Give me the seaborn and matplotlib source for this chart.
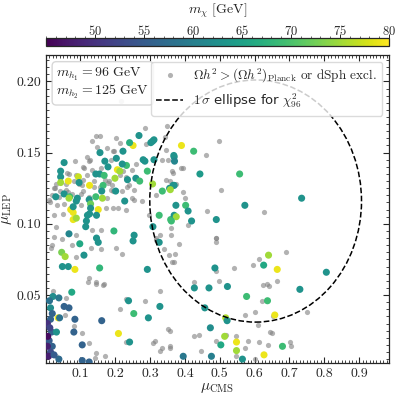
import numpy as np
import pandas as pd
import matplotlib
matplotlib.use("Agg")
import matplotlib.pyplot as plt
import seaborn as sns
from matplotlib.patches import Ellipse
from matplotlib.lines import Line2D
from matplotlib.ticker import MultipleLocator

# ---------------- data ----------------
gray_x = [0.2175, 0.342, 0.348,
          0.284, 0.144, 0.155, 0.132, 0.148, 0.177, 0.201, 0.287, 0.196, 0.187, 0.120, 0.084,
          0.125, 0.067, 0.110, 0.134, 0.120, 0.222, 0.247, 0.259, 0.024, 0.057, 0.081, 0.107,
          0.139, 0.182, 0.190, 0.235, 0.254, 0.101, 0.218, 0.335, 0.364, 0.019, 0.125, 0.077,
          0.105, 0.038, 0.177, 0.249, 0.158, 0.057, 0.192, 0.316, 0.345,
          0.213, 0.194, 0.347, 0.352, 0.390, 0.126, 0.107, 0.088, 0.026, 0.040, 0.107, 0.155,
          0.179, 0.189, 0.213, 0.095, 0.065, 0.030, 0.170, 0.230, 0.060, 0.140, 0.240, 0.012,
          0.010, 0.034, 0.053, 0.024, 0.050, 0.101, 0.172, 0.192, 0.209, 0.230, 0.254, 0.278,
          0.029, 0.134, 0.158, 0.086, 0.048, 0.019, 0.014, 0.075, 0.129, 0.158, 0.201, 0.220,
          0.086, 0.125, 0.144, 0.168, 0.297, 0.316, 0.369, 0.354, 0.024, 0.328, 0.318, 0.340,
          0.021, 0.057, 0.056, 0.081, 0.105, 0.125, 0.144, 0.142, 0.170, 0.123, 0.144, 0.165,
          0.213, 0.232, 0.285, 0.328, 0.352, 0.230, 0.307, 0.314, 0.335, 0.356, 0.329, 0.029,
          0.498, 0.460, 0.393, 0.366, 0.358, 0.374, 0.503, 0.393, 0.400, 0.464, 0.627, 0.409,
          0.361, 0.489, 0.361,
          0.383, 0.490, 0.488, 0.371, 0.364, 0.613, 0.596, 0.690, 0.540, 0.490, 0.498, 0.427,
          0.663, 0.623, 0.636, 0.640, 0.620, 0.602, 0.573, 0.610, 0.653, 0.548, 0.425, 0.439,
          0.519, 0.488, 0.582, 0.644, 0.651, 0.613, 0.639, 0.703, 0.447, 0.572, 0.601, 0.358,
          0.356, 0.548, 0.751, 0.704]
gray_y = [0.1865, 0.161, 0.169,
          0.167, 0.162, 0.162, 0.158, 0.154, 0.153, 0.160, 0.156, 0.151, 0.145, 0.147, 0.144,
          0.144, 0.135, 0.139, 0.138, 0.134, 0.137, 0.138, 0.142, 0.125, 0.128, 0.130, 0.131,
          0.126, 0.130, 0.127, 0.126, 0.124, 0.121, 0.123, 0.145, 0.137, 0.120, 0.119, 0.121,
          0.127, 0.119, 0.118, 0.118, 0.139, 0.124, 0.123, 0.120, 0.131,
          0.157, 0.151, 0.152, 0.145, 0.139, 0.145, 0.140, 0.134, 0.125, 0.123, 0.123, 0.126,
          0.129, 0.124, 0.134, 0.128, 0.122, 0.128, 0.131, 0.133, 0.136, 0.130, 0.127, 0.115,
          0.117, 0.113, 0.114, 0.106, 0.107, 0.113, 0.111, 0.111, 0.111, 0.110, 0.117, 0.116,
          0.098, 0.096, 0.096, 0.092, 0.089, 0.085, 0.083, 0.085, 0.083, 0.082, 0.083, 0.079,
          0.077, 0.062, 0.059, 0.058, 0.106, 0.090, 0.073, 0.078, 0.091, 0.092, 0.0886, 0.082,
          0.053, 0.048, 0.036, 0.028, 0.023, 0.016, 0.009, 0.006, 0.007, 0.059, 0.058, 0.057,
          0.040, 0.047, 0.046, 0.053, 0.026, 0.017, 0.016, 0.018, 0.013, 0.013, 0.011, 0.007,
          0.158, 0.148, 0.139, 0.136, 0.130, 0.128, 0.124, 0.122, 0.118, 0.109, 0.108, 0.099,
          0.097, 0.090, 0.092,
          0.086, 0.090, 0.087, 0.079, 0.073, 0.075, 0.071, 0.080, 0.069, 0.067, 0.060, 0.059,
          0.060, 0.057, 0.058, 0.056, 0.046, 0.038, 0.036, 0.029, 0.035, 0.021, 0.021, 0.022,
          0.022, 0.018, 0.018, 0.024, 0.023, 0.017, 0.015, 0.017, 0.011, 0.013, 0.005, 0.014,
          0.025, 0.007, 0.038, 0.014]

col_x = [0.268, 0.251, 0.241, 0.307, 0.311, 0.302, 0.156, 0.222, 0.203, 0.232, 0.220, 0.170,
         0.179, 0.206, 0.213, 0.280, 0.285, 0.292, 0.311, 0.053, 0.043, 0.043, 0.043, 0.065,
         0.094, 0.096, 0.126, 0.144, 0.155, 0.168, 0.165, 0.199, 0.235, 0.259, 0.270, 0.307,
         0.161, 0.201, 0.335, 0.356, 0.369, 0.369, 0.053, 0.069, 0.091, 0.144,
         0.029, 0.067, 0.088, 0.163, 0.125, 0.129, 0.072, 0.079, 0.079, 0.088, 0.079, 0.129,
         0.151, 0.126, 0.120, 0.146, 0.117, 0.115, 0.227, 0.196, 0.067, 0.146, 0.151, 0.254,
         0.251, 0.098, 0.110, 0.046, 0.056, 0.048, 0.065, 0.084, 0.155, 0.292, 0.308, 0.326,
         0.359, 0.369, 0.326,
         0.075, 0.021, 0.038, 0.011, 0.014, 0.053, 0.067, 0.019, 0.036, 0.040, 0.014, 0.084,
         0.161, 0.017, 0.031, 0.081, 0.010, 0.019, 0.105, 0.014, 0.008, 0.038, 0.105, 0.125,
         0.209, 0.238, 0.253, 0.295, 0.328, 0.241, 0.005, 0.005, 0.006, 0.012, 0.024,
         0.390, 0.425, 0.368, 0.370, 0.443, 0.557, 0.366, 0.358, 0.374, 0.402, 0.409, 0.375,
         0.361, 0.419, 0.490, 0.572,
         0.640, 0.665, 0.626, 0.486, 0.427, 0.469, 0.522, 0.577, 0.637, 0.457, 0.517, 0.521,
         0.658, 0.473, 0.514, 0.503, 0.548, 0.548, 0.680, 0.395, 0.476, 0.565, 0.627,
         0.735, 0.806, 0.730]
col_y = [0.162, 0.155, 0.157, 0.158, 0.159, 0.157, 0.150, 0.151, 0.146, 0.141, 0.142, 0.144,
         0.140, 0.138, 0.137, 0.145, 0.144, 0.137, 0.145, 0.143, 0.137, 0.133, 0.129, 0.130,
         0.133, 0.129, 0.127, 0.135, 0.135, 0.134, 0.127, 0.132, 0.131, 0.132, 0.130, 0.128,
         0.123, 0.123, 0.123, 0.125, 0.127, 0.147, 0.121, 0.119, 0.118, 0.119,
         0.119, 0.118, 0.116, 0.118, 0.117, 0.114, 0.110, 0.108, 0.103, 0.104, 0.112, 0.111,
         0.110, 0.107, 0.106, 0.106, 0.102, 0.098, 0.116, 0.095, 0.093, 0.090, 0.087, 0.092,
         0.088, 0.086, 0.078, 0.080, 0.077, 0.070, 0.070, 0.068, 0.069, 0.068, 0.098, 0.106,
         0.103, 0.106, 0.087,
         0.052, 0.049, 0.048, 0.046, 0.041, 0.042, 0.041, 0.037, 0.034, 0.034, 0.033, 0.033,
         0.032, 0.024, 0.024, 0.024, 0.018, 0.014, 0.015, 0.010, 0.007, 0.005, 0.004, 0.003,
         0.023, 0.046, 0.037, 0.034, 0.042, 0.017, 0.030, 0.014, 0.021, 0.027, 0.008,
         0.155, 0.151, 0.148, 0.144, 0.135, 0.135, 0.127, 0.124, 0.113, 0.113, 0.109, 0.105,
         0.102, 0.102, 0.103, 0.113,
         0.078, 0.068, 0.071, 0.069, 0.055, 0.055, 0.056, 0.049, 0.046, 0.041, 0.034, 0.032,
         0.036, 0.027, 0.021, 0.015, 0.017, 0.011, 0.014, 0.007, 0.007, 0.005, 0.008,
         0.118, 0.066, 0.054]
col_m = [63, 79, 67, 63, 63, 63, 63, 63, 63, 69, 63, 63,
         63, 79, 75, 63, 63, 69, 63, 63, 63, 63, 75, 79,
         77, 63, 79, 63, 63, 69, 69, 75, 63, 63, 69, 75,
         63, 63, 69, 63, 63, 63, 63, 69, 63, 69,
         63, 75, 63, 75, 63, 72, 79, 79, 79, 75, 63, 63,
         79, 63, 63, 63, 63, 63, 63, 68, 61, 63, 63, 63,
         63, 66, 63, 73, 75, 63, 63, 79, 68, 63, 63, 69,
         69, 63, 63,
         66, 62, 59, 58, 62, 56, 56, 56, 79, 58, 56, 56,
         56, 56, 63, 56, 55, 56, 56, 53, 48, 57, 56, 56,
         79, 63, 69, 63, 63, 63, 50, 48, 46, 52, 55,
         79, 69, 63, 61, 64, 69, 63, 75, 63, 69, 63, 75,
         69, 63, 63, 63,
         75, 79, 66, 63, 63, 63, 63, 69, 69, 63, 76, 63,
         79, 62, 75, 66, 79, 75, 69, 59, 60, 63, 79,
         63, 63, 63]

# 1 sigma ellipse (centre, full width, full height)
ell_center = (0.603, 0.116)
ell_width = 0.608
ell_height = 0.170

m_min, m_max = 45, 80

# ---------------- style ----------------
sns.set_style("ticks")
plt.rcParams['font.family'] = ['cmr10', 'DejaVu Serif']
plt.rcParams['mathtext.fontset'] = 'cm'
plt.rcParams['axes.formatter.use_mathtext'] = True
plt.rcParams['axes.unicode_minus'] = False

fig = plt.figure(figsize=(3.99, 3.99), dpi=100)
ax = fig.add_axes([0.1153, 0.091, 0.8597, 0.771])
cax = fig.add_axes([0.1153, 0.8835, 0.8597, 0.0213])

gray_df = pd.DataFrame({'x': gray_x, 'y': gray_y})
col_df = pd.DataFrame({'x': col_x, 'y': col_y, 'm': col_m})

sns.scatterplot(data=gray_df, x='x', y='y', color='gray', alpha=0.6, s=14,
                linewidth=0, ax=ax, zorder=2)
sns.scatterplot(data=col_df, x='x', y='y', hue='m', palette='viridis',
                hue_norm=(m_min, m_max), s=26, linewidth=0, legend=False,
                ax=ax, zorder=3)

ell = Ellipse(ell_center, ell_width, ell_height, fill=False, ls='--',
              color='black', lw=1.1, zorder=4)
ax.add_patch(ell)

ax.set_xlim(0.001, 0.986)
ax.set_ylim(0.0025, 0.2185)
ax.set_xticks([0.1, 0.2, 0.3, 0.4, 0.5, 0.6, 0.7, 0.8, 0.9])
ax.set_xticklabels(['0.1', '0.2', '0.3', '0.4', '0.5', '0.6', '0.7', '0.8', '0.9'])
ax.set_yticks([0.05, 0.10, 0.15, 0.20])
ax.set_yticklabels(['0.05', '0.10', '0.15', '0.20'])
ax.xaxis.set_minor_locator(MultipleLocator(0.01))
ax.yaxis.set_minor_locator(MultipleLocator(0.005))
ax.tick_params(which='both', direction='in', top=True, right=True, labelsize=10)
ax.tick_params(which='major', length=4, width=0.8)
ax.tick_params(which='minor', length=2, width=0.6)
for sp in ax.spines.values():
    sp.set_linewidth(0.9)

ax.set_xlabel(r'$\mu_{\rm CMS}$', fontsize=11, labelpad=1)
ax.set_ylabel(r'$\mu_{\rm LEP}$', fontsize=11, labelpad=2)

ax.text(0.03, 0.965, r'$m_{h_1} = 96$ GeV' + '\n' + r'$m_{h_2} = 125$ GeV',
        transform=ax.transAxes, ha='left', va='top', fontsize=10, zorder=6,
        linespacing=1.0,
        bbox=dict(boxstyle='round,pad=0.3', fc='white', ec='lightgray', alpha=0.9))

handles = [Line2D([], [], marker='o', ls='none', color='gray', alpha=0.6, markersize=3.7,
                  markeredgewidth=0),
           Line2D([], [], ls='--', color='black', lw=1.1)]
labels = [r'$\Omega h^2 > (\Omega h^2)_{\rm Planck}$ or dSph excl.',
          r'$1\,\sigma$ ellipse for $\chi^2_{96}$']
leg = ax.legend(handles, labels, loc='upper right', fontsize=9.5, frameon=True,
                fancybox=True, framealpha=0.8, edgecolor='lightgray',
                borderaxespad=0.5, handlelength=2.0)
leg.get_texts()[1].set_family('DejaVu Sans')
leg.set_zorder(7)

sm = plt.cm.ScalarMappable(norm=plt.Normalize(m_min, m_max), cmap='viridis')
cb = fig.colorbar(sm, cax=cax, orientation='horizontal')
cb.set_ticks([50, 55, 60, 65, 70, 75, 80])
cb.ax.xaxis.set_ticks_position('top')
cb.ax.xaxis.set_minor_locator(MultipleLocator(1))
cb.ax.tick_params(which='both', direction='out', labelsize=9, pad=-2.5)
cb.ax.tick_params(which='major', length=2.8, width=0.7)
cb.ax.tick_params(which='minor', length=1.5, width=0.5)
cb.outline.set_linewidth(0.9)
fig.text(0.545, 0.972, r'$m_\chi$ [GeV]', ha='center', va='center', fontsize=10)

fig.savefig('out.png', dpi=100)
